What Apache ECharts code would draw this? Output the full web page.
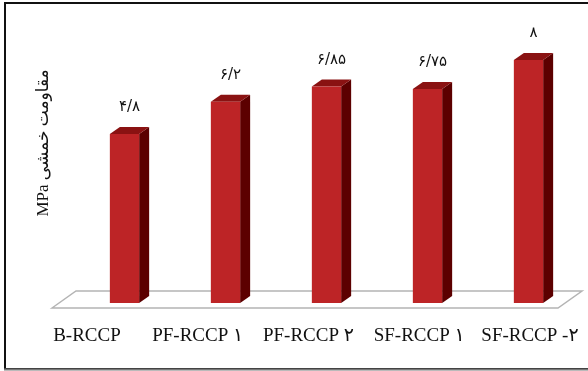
<!DOCTYPE html>
<html>
<head>
<meta charset="utf-8">
<script src="https://cdn.jsdelivr.net/npm/echarts@6/dist/echarts.min.js"></script>
<style>
html,body{margin:0;padding:0;background:#fff;}
#chart{width:588px;height:371px;}
</style>
</head>
<body>
<div id="chart"></div>
<script>
// ---- data ----
const categories = ['B-RCCP', 'PF-RCCP ۱', 'PF-RCCP ۲', 'SF-RCCP ۱', 'SF-RCCP -۲'];
const values = [4.8, 6.2, 6.85, 6.75, 8];
const axisTitle = 'MPa مقاومت خمشی';
const yMin = -2.5;
const yMax = 8;

function toFa(v) {
  const fa = '۰۱۲۳۴۵۶۷۸۹';
  return String(v).replace(/[0-9]/g, d => fa[+d]).replace('.', '/');
}

const chart = echarts.init(document.getElementById('chart'), null, {renderer: 'canvas'});

const FRONT = '#bd2426';
const SIDE = '#5c0000';
const TOP = '#8a1212';

const option = {
  backgroundColor: '#fff',
  animation: false,
  grid: [
    {left: 74, width: 505, top: 60, bottom: 68},
    {left: 31.6, width: 553.75, top: 60, bottom: 63}
  ],
  xAxis: [
    {type: 'category', gridIndex: 0, data: categories, show: false},
    {type: 'category', gridIndex: 1, data: categories,
      axisLine: {show: false}, axisTick: {show: false},
      axisLabel: {interval: 0, margin: 19, color: '#111',
        fontFamily: "'Liberation Serif', 'DejaVu Sans', serif", fontSize: 19}}
  ],
  yAxis: [
    {type: 'value', gridIndex: 0, min: yMin, max: yMax, show: false},
    {type: 'value', gridIndex: 1, min: yMin, max: yMax, show: false}
  ],
  graphic: [
    {type: 'rect', z: 0, shape: {x: 5, y: 3, width: 600, height: 366},
      style: {fill: 'none', stroke: '#111', lineWidth: 2}},
    {type: 'line', z: 0, shape: {x1: 4, y1: 369.5, x2: 588, y2: 369.5},
      style: {stroke: '#777', lineWidth: 2}},
    {type: 'polygon', z: 1,
      shape: {points: [[52, 308], [76, 291], [582, 291], [558, 308]]},
      style: {fill: '#fff', stroke: '#b4b4b4', lineWidth: 1.5}},
    {type: 'text', z: 5, x: 44, y: 143, rotation: Math.PI / 2,
      style: {text: axisTitle, fill: '#111', font: "17px 'Liberation Serif', 'DejaVu Sans', serif",
        align: 'center', verticalAlign: 'middle'}}
  ],
  series: [{
    type: 'custom',
    xAxisIndex: 0, yAxisIndex: 0,
    z: 10,
    data: values.map((v, i) => [i, v]),
    encode: {x: 0, y: 1},
    renderItem: function (params, api) {
      const i = api.value(0), v = api.value(1);
      const top = api.coord([i, v]);
      const base = api.coord([i, yMin]);
      const band = api.size([1, 0])[0];
      const hw = band * 0.145;
      const dx = 10, dy = 7;
      const x0 = top[0] - hw, x1 = top[0] + hw, yt = top[1], yb = base[1];
      return {
        type: 'group',
        children: [
          {type: 'polygon', shape: {points: [[x1, yt], [x1 + dx, yt - dy], [x1 + dx, yb - dy], [x1, yb]]},
            style: {fill: SIDE}},
          {type: 'polygon', shape: {points: [[x0, yt], [x1, yt], [x1 + dx, yt - dy], [x0 + dx, yt - dy]]},
            style: {fill: TOP}},
          {type: 'rect', shape: {x: x0, y: yt, width: x1 - x0, height: yb - yt},
            style: {fill: FRONT}},
          {type: 'text', style: {text: toFa(v), x: top[0] + 5, y: yt - dy - 20,
            align: 'center', verticalAlign: 'middle', fill: '#111',
            font: "15px 'DejaVu Sans', sans-serif"}}
        ]
      };
    }
  }]
};
chart.setOption(option);
</script>
</body>
</html>
